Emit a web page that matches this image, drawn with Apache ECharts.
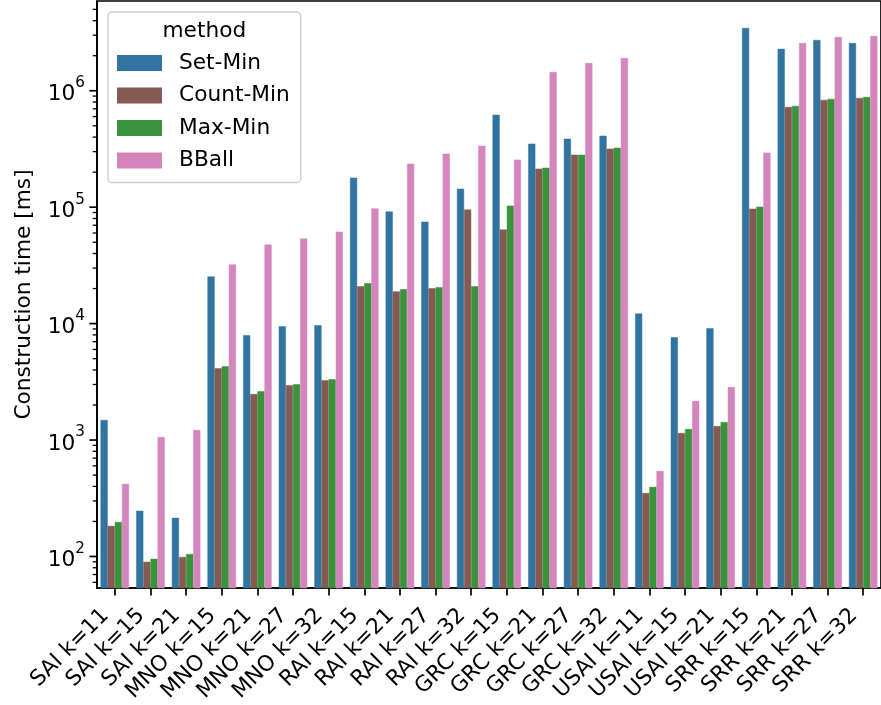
<!DOCTYPE html>
<html>
<head>
<meta charset="utf-8">
<script src="https://cdn.jsdelivr.net/npm/echarts@6/dist/echarts.min.js"></script>
<style>
  html, body { margin: 0; padding: 0; background: #ffffff; }
  #chart { width: 881px; height: 705px; }
</style>
</head>
<body>
<div id="chart"></div>
<script>
// Index construction time per dataset / k, four methods, log scale
const categories = ['SAI k=11', 'SAI k=15', 'SAI k=21', 'MNO k=15', 'MNO k=21', 'MNO k=27', 'MNO k=32',
  'RAI k=15', 'RAI k=21', 'RAI k=27', 'RAI k=32', 'GRC k=15', 'GRC k=21', 'GRC k=27', 'GRC k=32',
  'USAI k=11', 'USAI k=15', 'USAI k=21', 'SRR k=15', 'SRR k=21', 'SRR k=27', 'SRR k=32'];

const setMin = [1484, 247, 215, 25400, 7940, 9490, 9680, 179000, 91700, 75000, 144000, 621000,
  351000, 387000, 411000, 12200, 7640, 9130, 3460000, 2290000, 2730000, 2570000];
const countMin = [183, 90, 99, 4140, 2480, 2960, 3270, 20900, 18900, 20100, 95300, 64300,
  214000, 282000, 318000, 351, 1148, 1318, 97000, 726000, 834000, 868000];
const maxMin = [198, 95.5, 105, 4300, 2630, 3020, 3330, 22200, 19700, 20500, 20900, 103000,
  218000, 282000, 324000, 396, 1242, 1427, 101000, 741000, 851000, 885000];
const bball = [420, 1061, 1219, 32200, 47700, 53700, 61600, 97500, 236000, 288000, 337000, 256000,
  1450000, 1730000, 1910000, 543, 2160, 2850, 294000, 2570000, 2900000, 2950000];

const seriesNames = ['Set-Min', 'Count-Min', 'Max-Min', 'BBall'];
const seriesColors = ['#3274a1', '#845b53', '#3a923a', '#d585bd'];

// y axis range and tick values
const yMin = 53.6;
const yMax = 5.9e6;
const majorTicks = [1e2, 1e3, 1e4, 1e5, 1e6];
const minorSteps = [2, 3, 4, 5, 6, 7, 8, 9];
const minorDecades = [10, 100, 1000, 1e4, 1e5, 1e6];

const FONT = 'DejaVu Sans';
const FS = 21.7;

const tickData = majorTicks.map(v => [0, v, 1]);
minorDecades.forEach(d => minorSteps.forEach(s => {
  const v = d * s;
  if (v > yMin && v < yMax) tickData.push([0, v, 0]);
}));

const chart = echarts.init(document.getElementById('chart'), null, { renderer: 'canvas' });

const barSeries = [setMin, countMin, maxMin, bball].map((vals, i) => ({
  name: seriesNames[i],
  type: 'bar',
  data: vals,
  barGap: '0%',
  barCategoryGap: '20%',
  // thin same-colour outline closes anti-aliasing seams between adjacent bars
  itemStyle: { color: seriesColors[i], borderColor: seriesColors[i], borderWidth: 0.5 },
  z: 2
}));

const option = {
  animation: false,
  backgroundColor: '#ffffff',
  textStyle: { fontFamily: FONT, color: '#000' },
  grid: {
    left: 97, top: 1, width: 790, height: 588.3,
    show: true, borderColor: '#000', borderWidth: 1.7, backgroundColor: 'transparent'
  },
  legend: {
    data: seriesNames,
    orient: 'vertical',
    left: 108, top: 12,
    itemWidth: 45, itemHeight: 16, itemGap: 10.5,
    icon: 'rect',
    padding: [40, 11, 11, 9],
    backgroundColor: 'rgba(255,255,255,0.8)',
    borderColor: '#cccccc', borderWidth: 1.3, borderRadius: 4,
    itemStyle: { borderWidth: 0 },
    textStyle: { fontFamily: FONT, fontSize: FS, color: '#000', lineHeight: 22, padding: [0, 0, 0, 12] }
  },
  graphic: [{
    type: 'text', x: 204.3, y: 31, z: 100,
    style: { text: 'method', font: FS + 'px "' + FONT + '"', fill: '#000', textAlign: 'center', textVerticalAlign: 'middle' }
  }],
  xAxis: {
    type: 'category',
    data: categories,
    axisLine: { show: true, lineStyle: { color: '#000', width: 1.7 } },
    axisTick: { show: true, alignWithLabel: true, length: 7.6, lineStyle: { color: '#000', width: 1.7 } },
    axisLabel: {
      interval: 0, rotate: 45, margin: 15,
      fontFamily: FONT, fontSize: FS, color: '#000',
      padding: [0, 13, 0, 0]
    },
    splitLine: { show: false }
  },
  yAxis: {
    type: 'log', logBase: 10, min: yMin, max: yMax,
    axisLine: { show: true, lineStyle: { color: '#000', width: 1.7 } },
    axisTick: { show: false },
    splitLine: { show: false },
    minorTick: { show: false },
    axisLabel: {
      margin: 12,
      formatter: function (v) {
        const e = Math.log10(v);
        if (Math.abs(e - Math.round(e)) > 1e-6) return '';
        return '{base|10}{sup|' + Math.round(e) + '}';
      },
      rich: {
        base: { fontFamily: FONT, fontSize: FS, color: '#000', lineHeight: 30, verticalAlign: 'bottom' },
        sup: { fontFamily: FONT, fontSize: 15.2, color: '#000', lineHeight: 15, verticalAlign: 'top' }
      }
    },
    name: 'Construction time [ms]',
    nameLocation: 'middle',
    nameGap: 62,
    nameTextStyle: { fontFamily: FONT, fontSize: FS, color: '#000' }
  },
  series: barSeries.concat([{
    // y-axis major and minor ticks placed through the log scale
    type: 'custom',
    name: 'yticks',
    silent: true,
    clip: false,
    z: 10,
    data: tickData,
    renderItem: function (params, api) {
      const y = api.coord([0, api.value(1)])[1];
      const x0 = params.coordSys.x;
      const major = api.value(2) === 1;
      const len = major ? 7.6 : 4.3;
      return {
        type: 'line',
        shape: { x1: x0 - len, y1: y, x2: x0, y2: y },
        style: { stroke: '#000', lineWidth: major ? 1.7 : 1.3 }
      };
    }
  }])
};

chart.setOption(option);
</script>
</body>
</html>
